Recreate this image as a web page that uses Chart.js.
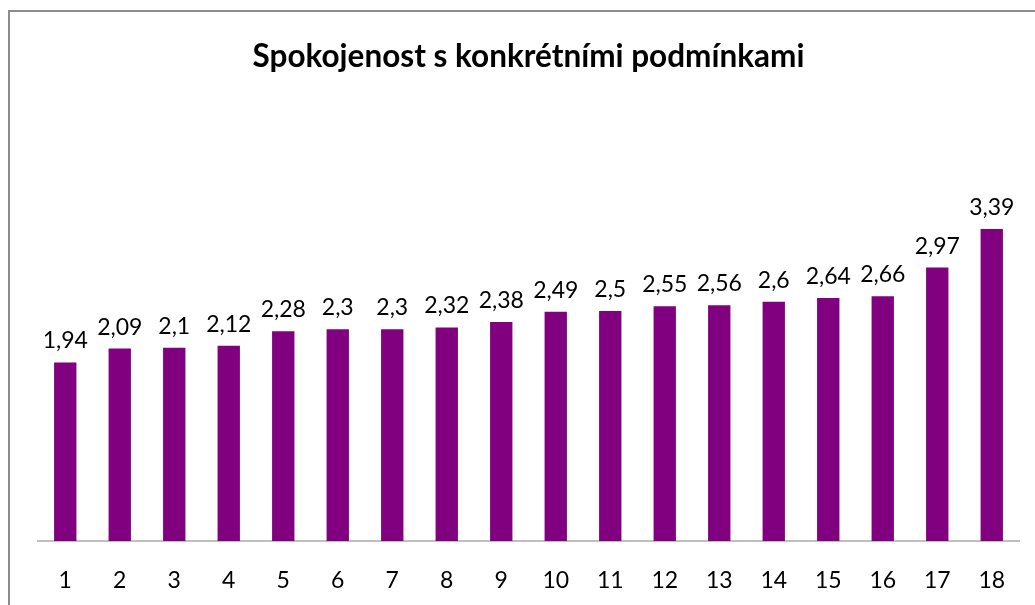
<!DOCTYPE html>
<html>
<head>
<meta charset="utf-8">
<script src="https://cdn.jsdelivr.net/npm/chart.js@4"></script>
<style>
  html, body { margin: 0; padding: 0; background: #fff; overflow: hidden; }
  #frame { position: absolute; left: 8px; top: 10px; width: 1100px; height: 700px; border: 2px solid #8c8c8c; }
  #wrap { position: absolute; left: 0; top: 0; width: 1035px; height: 605px; }
</style>
</head>
<body>
<div id="frame"></div>
<div id="wrap"><canvas id="chart"></canvas></div>
<script>
// data
const categories = ['1', '2', '3', '4', '5', '6', '7', '8', '9', '10', '11', '12', '13', '14', '15', '16', '17', '18'];
const values = [1.94, 2.09, 2.1, 2.12, 2.28, 2.3, 2.3, 2.32, 2.38, 2.49, 2.5, 2.55, 2.56, 2.6, 2.64, 2.66, 2.97, 3.39];
const titleText = 'Spokojenost s konkrétními podmínkami';

const FONT = 'Lato, "Open Sans", sans-serif';

// popisky hodnot nad sloupci
const valueLabels = {
  id: 'valueLabels',
  afterDatasetsDraw(chart) {
    const ctx = chart.ctx;
    const meta = chart.getDatasetMeta(0);
    ctx.save();
    ctx.font = '23px ' + FONT;
    ctx.fillStyle = '#000';
    ctx.textAlign = 'center';
    ctx.textBaseline = 'bottom';
    meta.data.forEach((bar, i) => {
      const txt = String(values[i]).replace('.', ',');
      ctx.fillText(txt, bar.x, bar.y - 10);
    });
    ctx.restore();
  }
};

const ctx = document.getElementById('chart').getContext('2d');
new Chart(ctx, {
  type: 'bar',
  data: {
    labels: categories,
    datasets: [{
      data: values,
      backgroundColor: '#800080',
      barPercentage: 0.82,
      categoryPercentage: 0.5
    }]
  },
  options: {
    responsive: true,
    maintainAspectRatio: false,
    animation: false,
    layout: { padding: { left: 38, right: 16, top: 0, bottom: 0 } },
    plugins: {
      legend: { display: false },
      tooltip: { enabled: false },
      title: {
        display: true,
        text: titleText,
        color: '#000',
        font: { family: FONT, size: 31.5, weight: 'bold' },
        padding: { top: 38, bottom: 97 }
      }
    },
    scales: {
      x: {
        grid: { display: false },
        border: { color: '#bfbfbf', width: 2 },
        ticks: { color: '#000', font: { family: FONT, size: 23 }, padding: 18 },
        afterFit(scale) { scale.height = 64; }
      },
      y: {
        display: false,
        min: 0,
        max: 4
      }
    }
  },
  plugins: [valueLabels]
});
</script>
</body>
</html>
